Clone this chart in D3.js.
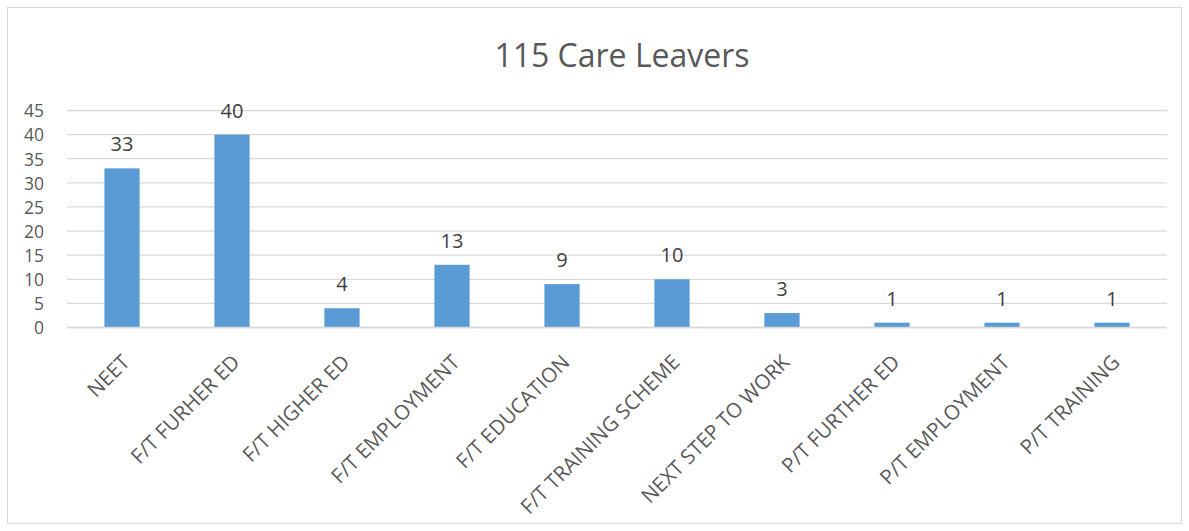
<!DOCTYPE html>
<html>
<head>
<meta charset="utf-8">
<script src="https://cdn.jsdelivr.net/npm/d3@7"></script>
<style>
  html, body { margin: 0; padding: 0; background: #fff; }
  svg text { font-family: "Open Sans", "Noto Sans", sans-serif; fill: #595959; }
</style>
</head>
<body>
<svg id="chart" width="1189" height="531"></svg>
<script>
const TITLE = '115 Care Leavers';
const CATEGORIES = ['NEET', 'F/T FURHER ED', 'F/T HIGHER ED', 'F/T EMPLOYMENT', 'F/T EDUCATION',
    'F/T TRAINING SCHEME', 'NEXT STEP TO WORK', 'P/T FURTHER ED', 'P/T EMPLOYMENT', 'P/T TRAINING'];
const VALUES = [33, 40, 4, 13, 9, 10, 3, 1, 1, 1];
const Y_TICKS = [0, 5, 10, 15, 20, 25, 30, 35, 40, 45];

const W = 1189, H = 531;
const plot = {left: 67, right: 1167, top: 110.5, bottom: 327.5};

const svg = d3.select('#chart');

// outer frame
svg.append('rect')
    .attr('x', 7.5).attr('y', 7.5)
    .attr('width', W - 15).attr('height', H - 15)
    .attr('fill', '#fff')
    .attr('stroke', '#d9d9d9')
    .attr('stroke-width', 1);

svg.append('text')
    .attr('x', 622).attr('y', 67)
    .attr('text-anchor', 'middle')
    .style('font-size', '32px')
    .text(TITLE);

const xScale = d3.scaleBand()
    .domain(CATEGORIES)
    .range([plot.left, plot.right])
    .paddingInner(0.68)
    .paddingOuter(0.34);

const yScale = d3.scaleLinear()
    .domain([0, 45])
    .range([plot.bottom, plot.top]);

// gridlines
svg.append('g')
    .selectAll('line')
    .data(Y_TICKS)
    .enter()
    .append('line')
    .attr('x1', plot.left)
    .attr('x2', plot.right)
    .attr('y1', d => yScale(d))
    .attr('y2', d => yScale(d))
    .attr('stroke', '#d9d9d9')
    .attr('stroke-width', 1.3);

// y axis labels (tight spacing, so keep the font just under the grid step)
const yAxis = d3.axisLeft(yScale).tickValues(Y_TICKS).tickSize(0).tickPadding(0);
const yAxisG = svg.append('g')
    .attr('transform', `translate(${plot.left - 23},0)`)
    .call(yAxis);
yAxisG.select('.domain').remove();
yAxisG.selectAll('text')
    .attr('dy', '0.36em')
    .style('font-size', '17.5px')
    .style('font-family', '"Open Sans", sans-serif')
    .attr('fill', '#595959');

// bars
svg.append('g')
    .selectAll('rect')
    .data(VALUES)
    .enter()
    .append('rect')
    .attr('x', (d, i) => xScale(CATEGORIES[i]))
    .attr('y', d => yScale(d))
    .attr('width', xScale.bandwidth())
    .attr('height', d => yScale(0) - yScale(d))
    .attr('fill', '#5b9bd5');

// axis line over bars
svg.append('line')
    .attr('x1', plot.left).attr('x2', plot.right)
    .attr('y1', yScale(0)).attr('y2', yScale(0))
    .attr('stroke', '#d9d9d9')
    .attr('stroke-width', 1.5);

// data labels
svg.append('g')
    .selectAll('text')
    .data(VALUES)
    .enter()
    .append('text')
    .attr('x', (d, i) => xScale(CATEGORIES[i]) + xScale.bandwidth() / 2)
    .attr('y', d => yScale(d) - 17)
    .attr('text-anchor', 'middle')
    .style('font-size', '20px')
    .style('fill', '#404040')
    .text(d => d);

// category labels
svg.append('g')
    .selectAll('text')
    .data(CATEGORIES)
    .enter()
    .append('text')
    .attr('transform', d => `translate(${xScale(d) + xScale.bandwidth() / 2 + 9},${plot.bottom + 36}) rotate(-45)`)
    .attr('text-anchor', 'end')
    .style('font-size', '20.5px')
    .text(d => d);
</script>
</body>
</html>
